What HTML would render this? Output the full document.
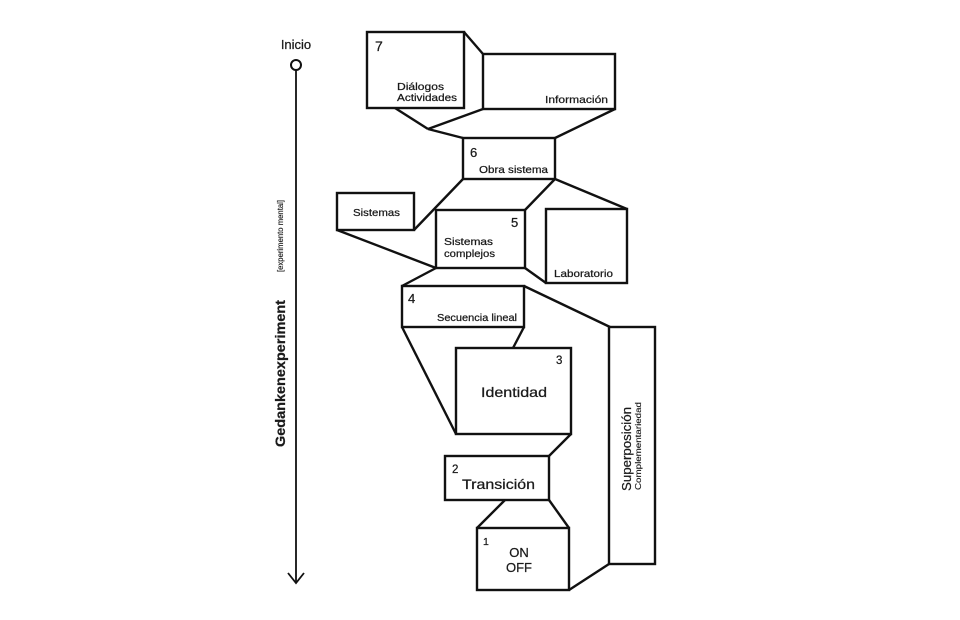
<!DOCTYPE html>
<html>
<head>
<meta charset="utf-8">
<style>
  html,body{margin:0;padding:0;background:#fff;}
  body{width:960px;height:620px;overflow:hidden;}
  svg{display:block;}
  text{font-family:"Liberation Sans","DejaVu Sans",sans-serif;fill:#1a1a1a;stroke:#1a1a1a;stroke-width:0.25;}
</style>
</head>
<body>
<svg width="960" height="620" viewBox="0 0 960 620" xmlns="http://www.w3.org/2000/svg">
  <!-- Axis -->
  <text x="296" y="49" font-size="13" text-anchor="middle">Inicio</text>
  <circle cx="296" cy="65" r="5" fill="#fff" stroke="#111" stroke-width="2"/>
  <line x1="296" y1="70" x2="296" y2="583" stroke="#111" stroke-width="1.8"/>
  <polyline points="288,573 296,583 304,573" fill="none" stroke="#111" stroke-width="1.8"/>
  <text transform="translate(285,447) rotate(-90)" font-size="14" font-weight="bold" textLength="147" lengthAdjust="spacingAndGlyphs">Gedankenexperiment</text>
  <text transform="translate(283,272) rotate(-90)" font-size="8.5" textLength="72" lengthAdjust="spacingAndGlyphs" style="stroke-width:0.15">[experimento mental]</text>

  <g fill="none" stroke="#111" stroke-width="2.4" stroke-linejoin="miter">
    <!-- 7 & Información -->
    <rect x="367" y="32" width="97" height="76"/>
    <rect x="483" y="54" width="132" height="55"/>
    <line x1="464" y1="32" x2="483" y2="54"/>
    <line x1="395" y1="108" x2="428" y2="129"/>
    <line x1="483" y1="109" x2="428" y2="129"/>
    <line x1="428" y1="129" x2="463" y2="138"/>
    <line x1="615" y1="109" x2="555" y2="138"/>
    <!-- 6 -->
    <rect x="463" y="138" width="92" height="41"/>
    <!-- Sistemas / 5 / Lab -->
    <rect x="337" y="193" width="77" height="37"/>
    <rect x="436" y="210" width="89" height="58"/>
    <rect x="546" y="209" width="81" height="74"/>
    <line x1="463" y1="179" x2="414" y2="230"/>
    <line x1="555" y1="179" x2="525" y2="210"/>
    <line x1="555" y1="179" x2="627" y2="209"/>
    <line x1="525" y1="268" x2="546" y2="283"/>
    <line x1="337" y1="230" x2="436" y2="268"/>
    <!-- 4 -->
    <rect x="402" y="286" width="122" height="41"/>
    <line x1="436" y1="268" x2="402" y2="286"/>
    <line x1="524" y1="286" x2="610" y2="327"/>
    <!-- Superposición -->
    <rect x="609" y="327" width="46" height="237"/>
    <!-- 3 -->
    <rect x="456" y="348" width="115" height="86"/>
    <line x1="402" y1="327" x2="456" y2="434"/>
    <line x1="524" y1="327" x2="513" y2="348"/>
    <!-- 2 -->
    <rect x="445" y="456" width="104" height="44"/>
    <line x1="571" y1="434" x2="549" y2="456"/>
    <!-- 1 -->
    <rect x="477" y="528" width="92" height="62"/>
    <line x1="505" y1="500" x2="477" y2="528"/>
    <line x1="549" y1="500" x2="569" y2="528"/>
    <line x1="569" y1="590" x2="609" y2="564"/>
  </g>

  <!-- Labels -->
  <text x="375" y="51" font-size="14">7</text>
  <text x="397" y="90" font-size="10.5" textLength="47" lengthAdjust="spacingAndGlyphs">Diálogos</text>
  <text x="397" y="101" font-size="10.5" textLength="60" lengthAdjust="spacingAndGlyphs">Actividades</text>
  <text x="545" y="103" font-size="10.5" textLength="63" lengthAdjust="spacingAndGlyphs">Información</text>

  <text x="470" y="157" font-size="13">6</text>
  <text x="479" y="173" font-size="10.5" textLength="69" lengthAdjust="spacingAndGlyphs">Obra sistema</text>

  <text x="353" y="216" font-size="10.5" textLength="47" lengthAdjust="spacingAndGlyphs">Sistemas</text>

  <text x="511" y="227" font-size="13">5</text>
  <text x="444" y="245" font-size="10.5" textLength="49" lengthAdjust="spacingAndGlyphs">Sistemas</text>
  <text x="444" y="257" font-size="10.5" textLength="51" lengthAdjust="spacingAndGlyphs">complejos</text>

  <text x="554" y="277" font-size="10.5" textLength="59" lengthAdjust="spacingAndGlyphs">Laboratorio</text>

  <text x="408" y="303" font-size="13">4</text>
  <text x="437" y="321" font-size="10" textLength="80" lengthAdjust="spacingAndGlyphs">Secuencia lineal</text>

  <text x="556" y="364" font-size="11.5">3</text>
  <text x="481" y="397" font-size="14" textLength="66" lengthAdjust="spacingAndGlyphs">Identidad</text>

  <text x="452" y="473" font-size="11.5">2</text>
  <text x="462" y="489" font-size="14" textLength="73" lengthAdjust="spacingAndGlyphs">Transición</text>

  <text x="483" y="545" font-size="10.5">1</text>
  <text x="519" y="557" font-size="13" text-anchor="middle">ON</text>
  <text x="519" y="572" font-size="13" text-anchor="middle">OFF</text>

  <text transform="translate(631,491) rotate(-90)" font-size="13" textLength="84" lengthAdjust="spacingAndGlyphs">Superposición</text>
  <text transform="translate(641,490) rotate(-90)" font-size="8" textLength="88" lengthAdjust="spacingAndGlyphs" style="stroke-width:0.15">Complementariedad</text>
</svg>
</body>
</html>
